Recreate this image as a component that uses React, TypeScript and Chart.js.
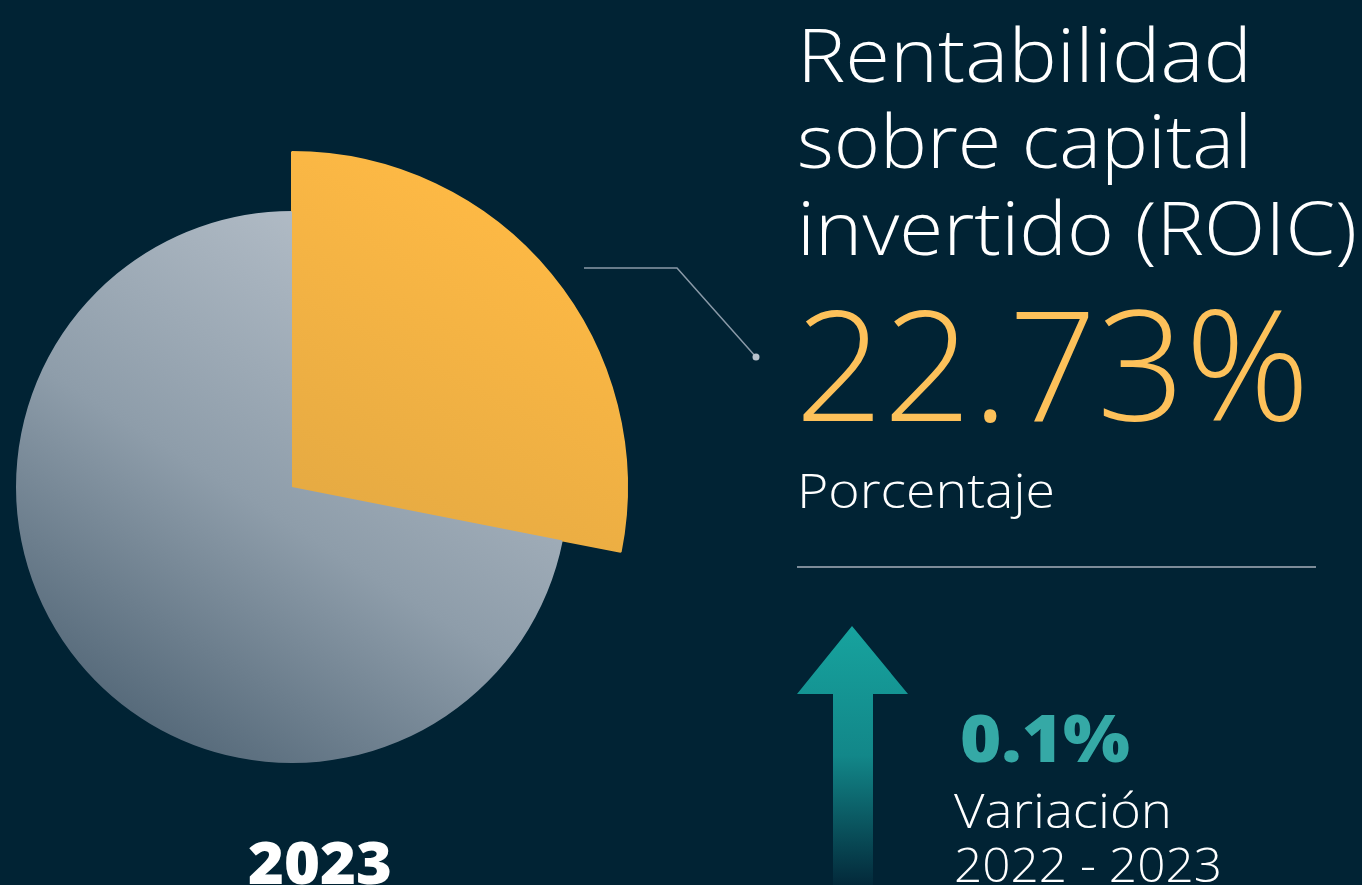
import React, { useEffect, useRef } from 'react';
import { Chart, registerables } from 'chart.js';

Chart.register(...registerables);

// ---- data ----
const sliceLabels = ['ROIC 2023', 'Resto'];
const sliceShares = [28.1, 71.9];
const titleLines = ['Rentabilidad', 'sobre capital', 'invertido (ROIC)'];
const headlineValue = '22.73%';
const headlineUnit = 'Porcentaje';
const variationValue = '0.1%';
const variationLines = ['Variación', '2022 - 2023'];
const yearLabel = '2023';

const BG = '#012334';
const FONT = "'Open Sans', 'Noto Sans', sans-serif";

// pie geometry on the page
const CX = 292;
const CY = 487;
const BOX = 690;

function orangeGrad(ctx: any) {
  const chart = ctx.chart;
  const area = chart.chartArea;
  if (!area) return '#FDB844';
  const cx = (area.left + area.right) / 2;
  const cy = (area.top + area.bottom) / 2;
  const g = chart.ctx.createLinearGradient(cx + 208, cy - 307, cx + 8, cy + 73);
  g.addColorStop(0, '#FFBA45');
  g.addColorStop(1, '#E2A842');
  return g;
}

function grayGrad(ctx: any) {
  const chart = ctx.chart;
  const area = chart.chartArea;
  if (!area) return '#9AA8B5';
  const cx = (area.left + area.right) / 2;
  const cy = (area.top + area.bottom) / 2;
  const g = chart.ctx.createLinearGradient(cx - 192, cy + 273, cx + 128, cy - 237);
  g.addColorStop(0, '#4A5F70');
  g.addColorStop(0.5, '#8E9DAA');
  g.addColorStop(1, '#B4BEC8');
  return g;
}

function PieChart() {
  const ref = useRef<HTMLCanvasElement | null>(null);
  useEffect(() => {
    if (!ref.current) return;
    const chart = new Chart(ref.current, {
      type: 'pie',
      data: {
        labels: sliceLabels,
        datasets: [
          {
            data: sliceShares,
            weight: 59,
            backgroundColor: (c: any) => (c.dataIndex === 0 ? orangeGrad(c) : 'rgba(0,0,0,0)'),
            borderColor: (c: any) => (c.dataIndex === 0 ? orangeGrad(c) : 'rgba(0,0,0,0)'),
            borderWidth: [2, 0],
          },
          {
            data: sliceShares,
            weight: 276,
            backgroundColor: (c: any) => (c.dataIndex === 0 ? orangeGrad(c) : grayGrad(c)),
            borderColor: (c: any) => (c.dataIndex === 0 ? orangeGrad(c) : grayGrad(c)),
            borderWidth: [2, 0],
          },
        ],
      } as any,
      options: {
        animation: false,
        responsive: false,
        maintainAspectRatio: false,
        radius: 335,
        events: [],
        layout: { padding: 0 },
        plugins: { legend: { display: false }, tooltip: { enabled: false } },
      } as any,
    });
    return () => chart.destroy();
  }, []);
  return (
    <canvas
      ref={ref}
      width={BOX}
      height={BOX}
      style={{ position: 'absolute', left: CX - BOX / 2, top: CY - BOX / 2, width: BOX, height: BOX }}
    />
  );
}

export default function App() {
  return (
    <div style={{ position: 'fixed', left: 0, top: 0, width: 1362, height: 885, background: BG, overflow: 'hidden' }}>
      <PieChart />
      <svg width={1362} height={885} style={{ position: 'absolute', left: 0, top: 0 }}>
        <defs>
          <linearGradient id="arrowGrad" x1="0" y1="626" x2="0" y2="885" gradientUnits="userSpaceOnUse">
            <stop offset="0" stopColor="#17A39E" />
            <stop offset="0.5" stopColor="#128789" />
            <stop offset="1" stopColor="#03293A" />
          </linearGradient>
        </defs>
        {/* leader line */}
        <polyline points="584,268 677,268 756,357" fill="none" stroke="#8A9AA8" strokeWidth={1.5} />
        <circle cx={756} cy={357} r={3.5} fill="#B8C2CC" />
        {/* title */}
        <text x={797} y={82} fontFamily={FONT} fontWeight={300} fontSize={74} fill="#FFFFFF" textLength={455} lengthAdjust="spacingAndGlyphs">{titleLines[0]}</text>
        <text x={797} y={168} fontFamily={FONT} fontWeight={300} fontSize={74} fill="#FFFFFF" textLength={455} lengthAdjust="spacingAndGlyphs">{titleLines[1]}</text>
        <text x={797} y={255} fontFamily={FONT} fontWeight={300} fontSize={74} fill="#FFFFFF" textLength={560} lengthAdjust="spacingAndGlyphs">{titleLines[2]}</text>
        {/* headline */}
        <text x={795} y={421} fontFamily={FONT} fontWeight={300} fontSize={154} fill="#FDC15A" textLength={515} lengthAdjust="spacingAndGlyphs">{headlineValue}</text>
        <text x={797} y={508} fontFamily={FONT} fontWeight={300} fontSize={48} fill="#FFFFFF" textLength={258} lengthAdjust="spacingAndGlyphs">{headlineUnit}</text>
        <line x1={797} y1={567} x2={1316} y2={567} stroke="#A7B1BB" strokeWidth={1.5} />
        {/* arrow */}
        <polygon points="852,626 908,694 873,694 873,885 833,885 833,694 797,694" fill="url(#arrowGrad)" />
        {/* variation */}
        <text x={960} y={762} fontFamily={FONT} fontWeight={800} fontSize={66} fill="#35A9A6" textLength={170} lengthAdjust="spacingAndGlyphs">{variationValue}</text>
        <text x={954} y={828} fontFamily={FONT} fontWeight={300} fontSize={48} fill="#FFFFFF" textLength={218} lengthAdjust="spacingAndGlyphs">{variationLines[0]}</text>
        <text x={954} y={882} fontFamily={FONT} fontWeight={300} fontSize={48} fill="#FFFFFF" textLength={268} lengthAdjust="spacingAndGlyphs">{variationLines[1]}</text>
        {/* year */}
        <text x={248} y={884} fontFamily={FONT} fontWeight={800} fontSize={58} fill="#FFFFFF" textLength={144} lengthAdjust="spacingAndGlyphs">{yearLabel}</text>
      </svg>
    </div>
  );
}
